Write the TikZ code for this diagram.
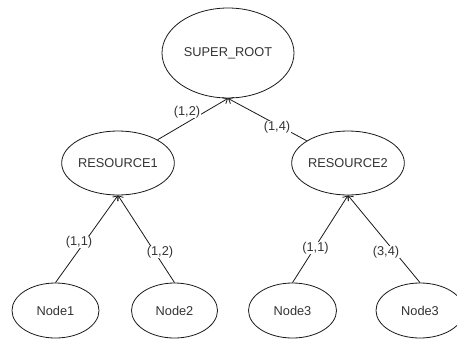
\documentclass[tikz,border=0pt]{standalone}
\usepackage{fontspec}
\setmainfont{Liberation Sans}
\usetikzlibrary{shapes.geometric,arrows.meta}
\tikzset{
  ell/.style={ellipse, draw=black!90, line width=0.8pt, inner sep=0pt, text=black!80, font=\fontsize{12.8}{14}\selectfont},
  edgelbl/.style={fill=white, inner sep=0.5pt, text=black!80, font=\fontsize{12.8}{14}\selectfont},
  conn/.style={draw=black!90, line width=0.8pt, -{Straight Barb[length=4pt,width=7pt]}},
}
\begin{document}
\begin{tikzpicture}[x=1pt,y=-1pt]
\useasboundingbox (0,0) rectangle (457,340);
\clip (0,0) rectangle (457,340);
\node[ell, minimum width=132pt, minimum height=90pt] (root) at (228,53) {SUPER\_ROOT};
\node[ell, minimum width=102pt, minimum height=64pt] (r1) at (118,163) {RESOURCE1};
\node[ell, minimum width=100pt, minimum height=64pt] (r2) at (348,163) {RESOURCE2};
\node[ell, minimum width=87pt, minimum height=55pt] (n1) at (55.5,310.5) {Node1};
\node[ell, minimum width=86pt, minimum height=55pt] (n2) at (174.5,310.5) {Node2};
\node[ell, minimum width=88pt, minimum height=55pt] (n3) at (292.5,310.5) {Node3};
\node[ell, minimum width=88pt, minimum height=55pt] (n4) at (420,310.5) {Node3};
\draw[conn] (r1) -- (root.south);
\draw[conn] (r2) -- (root.south);
\draw[conn] (n1.north) -- (r1.south);
\draw[conn] (n2.north) -- (r1.south);
\draw[conn] (n3.north) -- (r2.south);
\draw[conn] (n4.north) -- (r2.south);
\node[edgelbl] (l1) at (187,112) {(1,2)};
\node[edgelbl] (l2) at (277,127) {(1,4)};
\node[edgelbl] (l3) at (79,242) {(1,1)};
\node[edgelbl] (l4) at (160,252) {(1,2)};
\node[edgelbl] (l5) at (315.5,248) {(1,1)};
\node[edgelbl] (l6) at (386,252) {(3,4)};
\end{tikzpicture}
\end{document}
